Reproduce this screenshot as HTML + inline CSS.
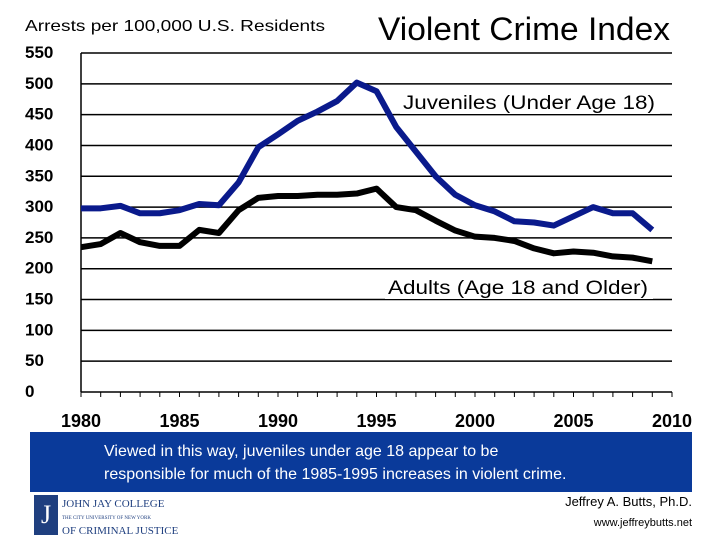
<!DOCTYPE html>
<html><head><meta charset="utf-8"><style>
body{margin:0;background:#fff;}
#wrap{position:relative;width:720px;height:540px;overflow:hidden;font-family:"Liberation Sans",sans-serif;}
</style></head><body>
<div id="wrap">
<svg id="chart" width="720" height="540"></svg>
<div style="position:absolute;left:30px;top:432px;width:662px;height:60px;background:#0a3a9a;color:#fff;font-size:16px;line-height:23px;">
<div style="padding:8px 0 0 74px;">Viewed in this way, juveniles under age 18 appear to be<br>responsible for much of the 1985-1995 increases in violent crime.</div></div>
<div style="position:absolute;left:34px;top:495px;width:24px;height:40px;background:#1f3f7f;color:#fff;font-family:'Liberation Serif',serif;font-size:26px;text-align:center;line-height:40px;">J</div>
<div style="position:absolute;left:62px;top:498px;font-family:'Liberation Serif',serif;font-size:11px;color:#1f3f7f;line-height:12px;">JOHN JAY COLLEGE<br><span style="font-size:5px;">THE CITY UNIVERSITY OF NEW YORK</span><br>OF CRIMINAL JUSTICE</div>
<div style="position:absolute;right:28px;top:492px;font-size:13px;text-align:right;line-height:20px;">Jeffrey A. Butts, Ph.D.<br><span style="font-size:11px;">www.jeffreybutts.net</span></div>
</div>
<script>
const years=[1980,1981,1982,1983,1984,1985,1986,1987,1988,1989,1990,1991,1992,1993,1994,1995,1996,1997,1998,1999,2000,2001,2002,2003,2004,2005,2006,2007,2008,2009];
const juveniles=[298,298,302,290,290,295,305,303,340,397,418,440,455,472,502,488,430,390,350,320,303,293,277,275,270,285,300,290,290,263];
const adults=[235,240,258,243,237,237,263,258,295,315,318,318,320,320,322,330,300,295,278,262,252,250,245,233,225,228,226,220,218,212];
const yTicks=[0,50,100,150,200,250,300,350,400,450,500,550];
const xTicks=[1980,1985,1990,1995,2000,2005,2010];
const svg=document.getElementById('chart');
const NS='http://www.w3.org/2000/svg';
const L=81,R=672,T=53,B=392;
const xs=y=>L+(y-1980)*(R-L)/30;
const ys=v=>B-v*(B-T)/550;
function mk(tag,a){const e=document.createElementNS(NS,tag);for(const k in a)e.setAttribute(k,a[k]);svg.appendChild(e);return e;}
let t=mk('text',{x:25,y:31,'font-size':16,textLength:300,lengthAdjust:'spacingAndGlyphs'});t.textContent='Arrests per 100,000 U.S. Residents';


t=mk('text',{x:378,y:40,'font-size':32,textLength:292,lengthAdjust:'spacingAndGlyphs'});t.textContent='Violent Crime Index';


yTicks.forEach(v=>{
 if(v>0){const g=mk('line',{x1:L,x2:R,y1:ys(v),y2:ys(v),stroke:'#000','stroke-width':1.5});
 
 }
 const tx=mk('text',{x:25,y:ys(v)+5,'font-size':17,'font-weight':'bold'});tx.textContent=v;
 
 
});
let ax=mk('line',{x1:L,x2:L,y1:T,y2:B,stroke:'#000','stroke-width':1.5});


ax=mk('line',{x1:L,x2:R,y1:B,y2:B,stroke:'#000','stroke-width':1.5});


for(let y=1980;y<=2010;y++){const k=mk('line',{x1:xs(y),x2:xs(y),y1:B,y2:B+5,stroke:'#000','stroke-width':1});

}
xTicks.forEach(y=>{const tx=mk('text',{x:xs(y),y:427,'font-size':18,'font-weight':'bold','text-anchor':'middle'});tx.textContent=y;

});
function line(vals,color,name){const p=mk('polyline',{points:vals.map((v,i)=>xs(years[i])+','+ys(v)).join(' '),fill:'none',stroke:color,'stroke-width':6,'stroke-linejoin':'round'});

}
line(adults,'#000','adults-line');
line(juveniles,'#0a1a8c','juveniles-line');
t=mk('rect',{x:400,y:88,width:260,height:26,fill:'#fff'});


t=mk('text',{x:403,y:109,'font-size':19,textLength:252,lengthAdjust:'spacingAndGlyphs'});t.textContent='Juveniles (Under Age 18)';


t=mk('rect',{x:385,y:273,width:268,height:26,fill:'#fff'});


t=mk('text',{x:388,y:294,'font-size':19,textLength:260,lengthAdjust:'spacingAndGlyphs'});t.textContent='Adults (Age 18 and Older)';


</script>
</body></html>
